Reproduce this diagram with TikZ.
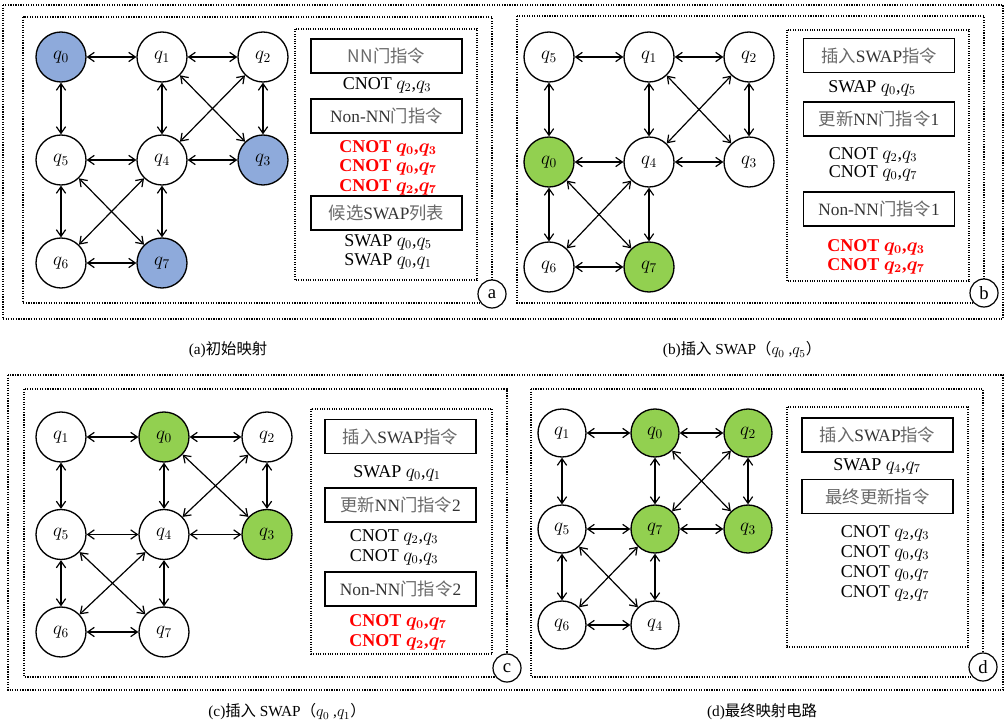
\documentclass[tikz,border=0pt]{standalone}
\usepackage{fontspec}
\setmainfont{Liberation Serif}
\newfontfamily\cjk{Noto Sans CJK SC}
\usetikzlibrary{arrows.meta}

\definecolor{qblue}{RGB}{142,170,219}
\definecolor{qgreen}{RGB}{146,208,80}
\definecolor{boxgray}{RGB}{105,105,105}

\tikzset{
  qubit/.style={circle, draw, line width=1pt, minimum size=37.5pt, inner sep=0pt, font=\fontsize{14}{16}\selectfont},
  link/.style={line width=0.9pt, {Straight Barb[length=5pt,width=7pt]}-{Straight Barb[length=5pt,width=7pt]}},
  outerbox/.style={densely dotted, line width=0.9pt},
  listbox/.style={densely dotted, line width=0.8pt},
  instr/.style={draw, line width=1.1pt, minimum width=113pt, minimum height=25.5pt, inner sep=0pt, text=black!80, font=\fontsize{13}{15}\selectfont},
  gate/.style={inner sep=0pt, font=\fontsize{13.5}{15}\selectfont},
  badgate/.style={inner sep=0pt, text=red, font=\fontsize{13.5}{15}\selectfont\bfseries\boldmath},
  tag/.style={circle, draw, line width=0.9pt, fill=white, minimum size=21pt, inner sep=0pt, font=\fontsize{14}{16}\selectfont},
  caption/.style={inner sep=0pt, font=\fontsize{11.5}{13}\selectfont}
}
\newcommand{\zh}[1]{{\cjk\color{boxgray}#1}}
% grid: A B C / D E F / G H
\def\qedges{A/B,B/C,A/D,B/E,C/F,D/E,E/F,D/G,E/H,G/H,B/F,C/E,D/H,E/G}

\begin{document}
\begin{tikzpicture}[x=0.75pt, y=-0.75pt]
  \useasboundingbox (0,0) rectangle (1006,727);

  % frames
  \draw[outerbox] (3,5) rectangle (1003,319);
  \draw[outerbox] (23,17) rectangle (492,303);
  \draw[outerbox] (517,16) rectangle (984,303);
  \draw[listbox] (295,29) rectangle (477,280);
  \draw[listbox] (787,30) rectangle (969,281);
  \draw[outerbox] (8,375) rectangle (1003,690);
  \draw[outerbox] (24,389) rectangle (507,677);
  \draw[outerbox] (531,389) rectangle (983,677);
  \draw[listbox] (311,409) rectangle (492,654);
  \draw[listbox] (787,407) rectangle (968,647);

  % (a) initial mapping
  \begin{scope}[shift={(61,57)}]
    \foreach \n/\i/\j/\k/\c in {A/0/0/0/qblue, B/1/0/1/white, C/2/0/2/white, D/0/1/5/white,
                                E/1/1/4/white, F/2/1/3/qblue, G/0/2/6/white, H/1/2/7/qblue}
      \node[qubit, fill=\c] (a\n) at (\i*101, \j*103) {$q_{\k}$};
    \foreach \u/\v in \qedges \draw[link] (a\u) -- (a\v);
  \end{scope}
  \node[instr] (aL1) at (386.5,56) {\zh{NN门指令}};
  \node[gate] (aL2) at (387,85) {CNOT $q_2$,$q_3$};
  \node[instr] (aL3) at (386.5,116) {Non-NN\zh{门指令}};
  \node[badgate] (aL4) at (388,148) {CNOT $q_0$,$q_3$};
  \node[badgate] (aL5) at (388,167) {CNOT $q_0$,$q_7$};
  \node[badgate] (aL6) at (388,187) {CNOT $q_2$,$q_7$};
  \node[instr] (aL7) at (386.5,213) {\zh{候选}SWAP\zh{列表}};
  \node[gate] (aL8) at (388,242) {SWAP $q_0$,$q_5$};
  \node[gate] (aL9) at (388,261) {SWAP $q_0$,$q_1$};
  \node[tag] (taga) at (492,294) {a};

  % (b) swap q0,q5
  \begin{scope}[shift={(549,57)}]
    \foreach \n/\i/\j/\k/\c in {A/0/0/5/white, B/1/0/1/white, C/2/0/2/white, D/0/1/0/qgreen,
                                E/1/1/4/white, F/2/1/3/white, G/0/2/6/white, H/1/2/7/qgreen}
      \node[qubit, fill=\c] (b\n) at (\i*100, \j*105) {$q_{\k}$};
    \foreach \u/\v in \qedges \draw[link] (b\u) -- (b\v);
  \end{scope}
  \node[instr] (bL1) at (879,55.5) {\zh{插入}SWAP\zh{指令}};
  \node[gate] (bL2) at (872,88) {SWAP $q_0$,$q_5$};
  \node[instr] (bL3) at (879,119) {\zh{更新}NN\zh{门指令}1};
  \node[gate] (bL4) at (873,155) {CNOT $q_2$,$q_3$};
  \node[gate] (bL5) at (873,173) {CNOT $q_0$,$q_7$};
  \node[instr] (bL6) at (879,209) {Non-NN\zh{门指令}1};
  \node[badgate] (bL7) at (876,247) {CNOT $q_0$,$q_3$};
  \node[badgate] (bL8) at (876,266) {CNOT $q_2$,$q_7$};
  \node[tag] (tagb) at (984,293) {b};

  % (c) swap q0,q1
  \begin{scope}[shift={(61,437)}]
    \foreach \n/\i/\j/\k/\c in {A/0/0/1/white, B/1/0/0/qgreen, C/2/0/2/white, D/0/1/5/white,
                                E/1/1/4/white, F/2/1/3/qgreen, G/0/2/6/white, H/1/2/7/white}
      \node[qubit, fill=\c] (c\n) at (\i*103, \j*97.5) {$q_{\k}$};
    \foreach \u/\v in \qedges \draw[link] (c\u) -- (c\v);
  \end{scope}
  \node[instr] (cL1) at (400.5,436.5) {\zh{插入}SWAP\zh{指令}};
  \node[gate] (cL2) at (397,473) {SWAP $q_0$,$q_1$};
  \node[instr] (cL3) at (400.5,505) {\zh{更新}NN\zh{门指令}2};
  \node[gate] (cL4) at (394,537) {CNOT $q_2$,$q_3$};
  \node[gate] (cL5) at (394,557) {CNOT $q_0$,$q_3$};
  \node[instr] (cL6) at (400.5,589) {Non-NN\zh{门指令}2};
  \node[badgate] (cL7) at (398,622) {CNOT $q_0$,$q_7$};
  \node[badgate] (cL8) at (398,642) {CNOT $q_2$,$q_7$};
  \node[tag] (tagc) at (507,668) {c};

  % (d) final mapped circuit
  \begin{scope}[shift={(562,433)}]
    \foreach \n/\i/\j/\k/\c in {A/0/0/1/white, B/1/0/0/qgreen, C/2/0/2/qgreen, D/0/1/5/white,
                                E/1/1/7/qgreen, F/2/1/3/qgreen, G/0/2/6/white, H/1/2/4/white}
      \node[qubit, minimum size=36pt, fill=\c] (d\n) at (\i*93, \j*96) {$q_{\k}$};
    \foreach \u/\v in \qedges \draw[link] (d\u) -- (d\v);
  \end{scope}
  \node[instr] (dL1) at (877.5,435) {\zh{插入}SWAP\zh{指令}};
  \node[gate] (dL2) at (877,466) {SWAP $q_4$,$q_7$};
  \node[instr] (dL3) at (877.5,496.5) {\zh{最终更新指令}};
  \node[gate] (dL4) at (885,533) {CNOT $q_2$,$q_3$};
  \node[gate] (dL5) at (885,553) {CNOT $q_0$,$q_3$};
  \node[gate] (dL6) at (885,573) {CNOT $q_0$,$q_7$};
  \node[gate] (dL7) at (885,593) {CNOT $q_2$,$q_7$};
  \node[tag] (tagd) at (983,667) {d};

  % captions
  \node[caption] (capa) at (228,350) {(a)\cjk 初始映射};
  \node[caption] (capb) at (742,350) {(b){\cjk 插入} SWAP{\cjk （}$q_0$\ ,$q_5${\cjk ）}};
  \node[caption] (capc) at (287,712) {(c){\cjk 插入} SWAP{\cjk （}$q_0$\ ,$q_1${\cjk ）}};
  \node[caption] (capd) at (762,712) {(d)\cjk 最终映射电路};
\end{tikzpicture}
\end{document}
